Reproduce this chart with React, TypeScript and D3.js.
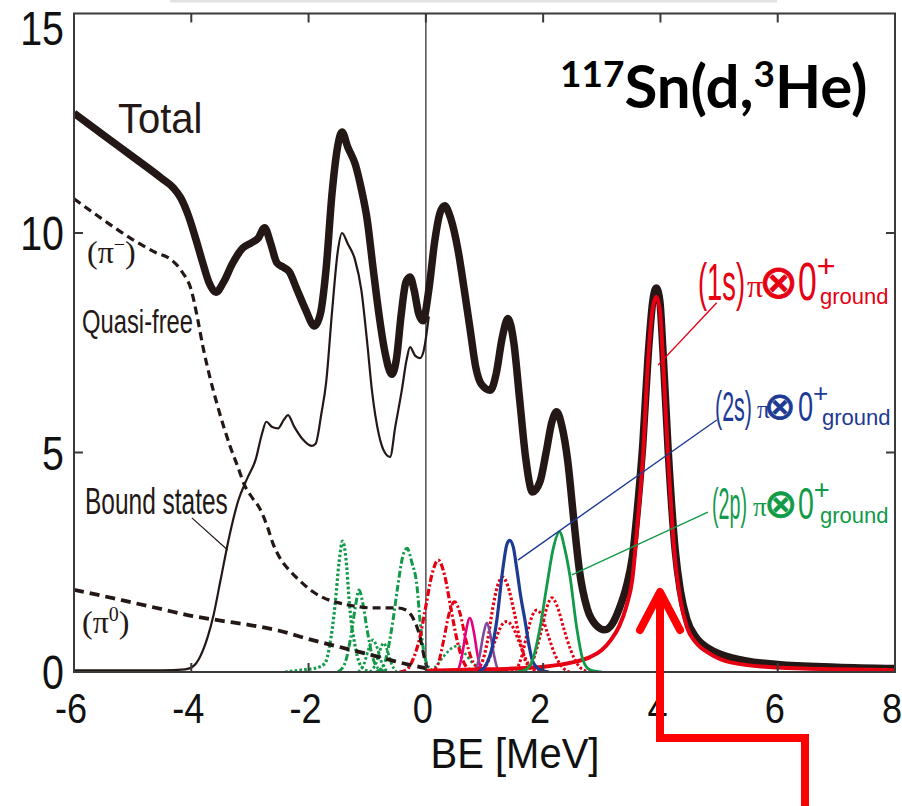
import React from 'react';
import * as d3 from 'd3';

type P = [number, number];

const xTicks = [-6, -4, -2, 0, 2, 4, 6, 8];
const yTicks = [0, 5, 10, 15];

const total: P[] = [
  [-6.0, 12.73], [-5.5, 12.23], [-5.0, 11.74], [-4.5, 11.24], [-4.3, 11.02], [-4.18, 10.8], [-4.05, 10.4],
  [-3.92, 9.85], [-3.8, 9.3], [-3.7, 8.88], [-3.58, 8.65], [-3.45, 8.88], [-3.3, 9.3], [-3.12, 9.66],
  [-2.97, 9.78], [-2.86, 9.88], [-2.75, 10.12], [-2.65, 9.78], [-2.54, 9.32], [-2.43, 9.22], [-2.33, 9.12],
  [-2.2, 8.72], [-2.05, 8.25], [-1.9, 7.88], [-1.8, 8.15], [-1.7, 9.2], [-1.6, 10.9], [-1.5, 12.0],
  [-1.43, 12.3], [-1.33, 11.95], [-1.2, 11.55], [-1.1, 11.0], [-1.0, 10.3], [-0.9, 9.2], [-0.8, 8.15],
  [-0.7, 7.3], [-0.58, 6.78], [-0.5, 7.15], [-0.42, 8.15], [-0.34, 8.88], [-0.27, 9.0], [-0.2, 8.7],
  [-0.12, 8.15], [-0.05, 8.0], [0.05, 8.7], [0.15, 9.8], [0.24, 10.45], [0.32, 10.62], [0.42, 10.35],
  [0.55, 9.6], [0.65, 8.75], [0.75, 7.85], [0.85, 6.95], [0.95, 6.55], [1.1, 6.42], [1.2, 6.8],
  [1.3, 7.6], [1.4, 8.05], [1.5, 7.5], [1.6, 6.2], [1.7, 4.9], [1.82, 4.1], [1.95, 4.35], [2.05, 5.0],
  [2.15, 5.7], [2.23, 5.93], [2.32, 5.6], [2.42, 4.8], [2.52, 3.5], [2.62, 2.3], [2.75, 1.45],
  [2.9, 1.07], [3.05, 0.96], [3.18, 1.1], [3.3, 1.45], [3.42, 1.95], [3.52, 2.6], [3.62, 3.9],
  [3.7, 5.2], [3.79, 7.2], [3.87, 8.45], [3.93, 8.75], [3.99, 8.45], [4.04, 7.4], [4.13, 5.1],
  [4.25, 2.8], [4.34, 1.85], [4.45, 1.2], [4.6, 0.8], [4.84, 0.52], [5.2, 0.33], [6.0, 0.17],
  [7.0, 0.11], [8.0, 0.08],
];

const boundStates: P[] = [
  [-6.0, 0.04], [-4.5, 0.04], [-4.1, 0.06], [-3.95, 0.15], [-3.85, 0.35], [-3.72, 0.8], [-3.62, 1.3],
  [-3.5, 2.1], [-3.35, 3.1], [-3.2, 3.9], [-3.05, 4.4], [-2.9, 4.85], [-2.8, 5.4], [-2.72, 5.7],
  [-2.62, 5.58], [-2.52, 5.55], [-2.42, 5.75], [-2.35, 5.85], [-2.25, 5.6], [-2.1, 5.3], [-1.95, 5.15],
  [-1.88, 5.2], [-1.78, 5.9], [-1.7, 6.6], [-1.6, 8.2], [-1.5, 9.6], [-1.43, 10.0], [-1.33, 9.75],
  [-1.21, 9.4], [-1.1, 8.7], [-1.0, 7.5], [-0.92, 6.42], [-0.8, 5.4], [-0.7, 5.0], [-0.61, 4.9],
  [-0.52, 5.6], [-0.41, 6.42], [-0.33, 7.1], [-0.27, 7.4], [-0.18, 7.2], [-0.1, 7.15], [-0.04, 7.3],
  [0.0, 7.6], [0.05, 8.1],
];

const quasiFreePiMinus: P[] = [
  [-6.0, 10.78], [-5.5, 10.3], [-5.0, 9.85], [-4.6, 9.55], [-4.35, 9.4], [-4.15, 9.1], [-4.0, 8.7],
  [-3.9, 8.1], [-3.8, 7.4], [-3.68, 6.7], [-3.56, 6.1], [-3.45, 5.6], [-3.34, 5.15], [-3.2, 4.65],
  [-3.09, 4.25], [-2.95, 3.95], [-2.83, 3.72], [-2.7, 3.3], [-2.6, 2.9], [-2.49, 2.6], [-2.3, 2.28],
  [-2.15, 2.08], [-1.95, 1.85], [-1.76, 1.7], [-1.5, 1.58], [-1.3, 1.52], [-0.9, 1.46], [-0.5, 1.46],
  [-0.35, 1.42], [-0.27, 1.33], [-0.2, 1.18], [-0.15, 1.02], [-0.1, 0.8], [-0.07, 0.62], [-0.03, 0.35],
  [0.02, 0.1],
];

const quasiFreePiZero: P[] = [
  [-6.0, 1.87], [-5.5, 1.73], [-5.0, 1.58], [-4.5, 1.43], [-4.0, 1.28], [-3.5, 1.17], [-3.0, 1.07],
  [-2.5, 0.94], [-2.0, 0.75], [-1.5, 0.58], [-1.0, 0.41], [-0.6, 0.27], [-0.3, 0.17], [-0.05, 0.1],
  [0.0, 0.08],
];

const state1s: P[] = [
  [0.0, 0.03], [1.0, 0.06], [1.5, 0.08], [2.0, 0.12], [2.5, 0.22], [2.8, 0.34], [3.0, 0.5], [3.15, 0.72],
  [3.3, 1.05], [3.42, 1.5], [3.52, 2.1], [3.62, 3.55], [3.7, 4.85], [3.79, 7.1], [3.87, 8.3],
  [3.93, 8.55], [3.99, 8.25], [4.04, 7.2], [4.13, 4.9], [4.25, 2.55], [4.34, 1.65], [4.45, 1.03],
  [4.6, 0.68], [4.84, 0.42], [5.2, 0.22], [6.0, 0.1], [7.0, 0.06], [8.0, 0.04],
];

const state2s: P[] = [
  [0.9, 0.0], [1.04, 0.2], [1.12, 0.5], [1.21, 1.18], [1.31, 2.32], [1.38, 2.9], [1.43, 3.0],
  [1.49, 2.85], [1.55, 2.35], [1.62, 1.7], [1.69, 1.18], [1.76, 0.6], [1.82, 0.25], [1.95, 0.05], [2.1, 0.0],
];

const state2p: P[] = [
  [1.55, 0.0], [1.7, 0.05], [1.82, 0.27], [1.94, 0.96], [2.06, 1.94], [2.17, 2.8], [2.28, 3.19],
  [2.37, 2.8], [2.46, 2.16], [2.57, 1.03], [2.68, 0.27], [2.8, 0.05], [3.0, 0.0],
];

const magentaPeak: P[] = [
  [0.45, 0.0], [0.55, 0.06], [0.62, 0.4], [0.68, 0.9], [0.75, 1.23], [0.82, 0.9], [0.88, 0.4], [0.95, 0.06], [1.05, 0.0],
];
const purplePeak: P[] = [
  [0.75, 0.0], [0.85, 0.06], [0.92, 0.4], [0.98, 0.85], [1.04, 1.12], [1.1, 0.85], [1.16, 0.4], [1.23, 0.06], [1.33, 0.0],
];

const redDashDotA: P[] = [
  [-0.45, 0.0], [-0.33, 0.05], [-0.2, 0.35], [-0.1, 0.8], [0.0, 1.5], [0.1, 2.2], [0.21, 2.55],
  [0.32, 2.2], [0.42, 1.5], [0.52, 0.8], [0.62, 0.3], [0.75, 0.05], [0.9, 0.0],
];
const redDashDotB: P[] = [
  [0.1, 0.0], [0.2, 0.15], [0.3, 0.7], [0.4, 1.35], [0.49, 1.6], [0.58, 1.35], [0.68, 0.75],
  [0.78, 0.3], [0.9, 0.07], [1.0, 0.0],
];
const redDottedC: P[] = [
  [0.8, 0.0], [0.95, 0.2], [1.05, 0.7], [1.14, 1.45], [1.22, 1.95], [1.31, 2.16], [1.4, 1.95],
  [1.5, 1.4], [1.6, 0.75], [1.7, 0.25], [1.85, 0.03], [1.95, 0.0],
];
const redDottedD: P[] = [
  [0.9, 0.0], [1.05, 0.2], [1.18, 0.7], [1.3, 1.08], [1.38, 1.15], [1.47, 1.05], [1.6, 0.65],
  [1.72, 0.25], [1.85, 0.05], [1.95, 0.0],
];
const redDottedE: P[] = [
  [1.45, 0.0], [1.55, 0.08], [1.64, 0.38], [1.74, 0.95], [1.82, 1.3], [1.89, 1.41], [1.97, 1.3],
  [2.07, 0.9], [2.2, 0.4], [2.35, 0.08], [2.45, 0.0],
];
const redDottedF: P[] = [
  [1.7, 0.05], [1.85, 0.35], [1.97, 0.95], [2.07, 1.5], [2.15, 1.69], [2.24, 1.5], [2.35, 1.0],
  [2.47, 0.5], [2.6, 0.15], [2.75, 0.02], [2.9, 0.0],
];

const greenDottedG1: P[] = [
  [-2.4, 0.0], [-2.1, 0.05], [-1.85, 0.1], [-1.72, 0.2], [-1.64, 0.6], [-1.55, 1.5], [-1.48, 2.5],
  [-1.42, 2.98], [-1.36, 2.55], [-1.3, 1.5], [-1.2, 0.55], [-1.1, 0.12], [-0.95, 0.0],
];
const greenDashDotG2: P[] = [
  [-1.5, 0.0], [-1.38, 0.2], [-1.28, 0.8], [-1.2, 1.5], [-1.14, 1.87], [-1.08, 1.6], [-1.0, 0.95],
  [-0.9, 0.3], [-0.78, 0.05], [-0.65, 0.0],
];
const greenDashDotG3: P[] = [
  [-0.85, 0.0], [-0.72, 0.15], [-0.64, 0.55], [-0.56, 1.18], [-0.48, 1.94], [-0.4, 2.6], [-0.32, 2.82],
  [-0.24, 2.5], [-0.15, 1.94], [-0.1, 1.18], [-0.04, 0.5], [0.05, 0.1], [0.15, 0.0],
];
const greenDottedG4: P[] = [
  [-1.15, 0.0], [-1.05, 0.2], [-0.97, 0.55], [-0.9, 0.73], [-0.83, 0.55], [-0.75, 0.2], [-0.65, 0.0],
];
const greenDottedG5: P[] = [
  [-0.95, 0.0], [-0.85, 0.2], [-0.78, 0.5], [-0.72, 0.66], [-0.66, 0.5], [-0.59, 0.2], [-0.5, 0.0],
];
const greenDottedG6: P[] = [
  [0.0, 0.0], [0.15, 0.1], [0.3, 0.35], [0.45, 0.55], [0.55, 0.6], [0.65, 0.45], [0.8, 0.2], [1.0, 0.05], [1.2, 0.0],
];

// leader lines, in data coordinates [from, to]
const leader1s: P[] = [[4.96, 8.41], [3.96, 6.99]];
const leader2s: P[] = [[4.96, 5.74], [1.57, 2.55]];
const leader2p: P[] = [[4.81, 3.64], [2.49, 2.21]];
const leaderBound: P[] = [[-3.99, 3.51], [-3.38, 2.78]];

const BLACK = '#231815';
const RED = '#e60012';
const BLUE = '#1d3a94';
const GREEN = '#119a48';
const MAGENTA = '#e4007f';
const PURPLE = '#7f4a9e';

const DOT = '2.6,2.2';
const DASHDOT = '7,2.5,2.2,2.5';

const SANS = '"Liberation Sans", Arial, sans-serif';
const SERIF = '"Liberation Serif", "Times New Roman", serif';

function OrbitalLabel(props: {
  x0: number; yb: number; fs: number; color: string; orb: string; orbW: number;
  dPi: number; dOt: number; dZero: number; dGround: number;
}) {
  const { x0, yb, fs, color, orb, orbW, dPi, dOt, dZero, dGround } = props;
  const fsOt = fs * 0.9;
  const otCenter = yb - fs * 0.27;
  const zeroW = fs * 0.36;
  return (
    <text fill={color} fontFamily={SANS}>
      <tspan x={x0} y={yb} fontSize={fs} textLength={orbW} lengthAdjust="spacingAndGlyphs">{orb}</tspan>
      <tspan x={x0 + dPi} y={yb - 3} fontFamily={SERIF} fontSize={fs * 0.62}>π</tspan>
      <tspan x={x0 + dOt - 6} y={otCenter + fsOt * 0.25} fontFamily='"DejaVu Sans", sans-serif'
        fontSize={fsOt} stroke={color} strokeWidth={0.9}>⊗</tspan>
      <tspan x={x0 + dZero} y={yb} fontSize={fs * 1.02} textLength={zeroW} lengthAdjust="spacingAndGlyphs">0</tspan>
      <tspan x={x0 + dZero + zeroW} y={yb - fs * 0.45} fontSize={fs * 0.62}>+</tspan>
      <tspan x={x0 + dGround} y={yb + 4} fontSize={22}>ground</tspan>
    </text>
  );
}

export default function App() {
  const x = d3.scaleLinear().domain([-6, 8]).range([74, 895]);
  const y = d3.scaleLinear().domain([0, 15]).range([672, 13.5]);
  const line = d3.line<P>().x((d) => x(d[0])).y((d) => y(d[1])).curve(d3.curveMonotoneX);
  const straight = d3.line<P>().x((d) => x(d[0])).y((d) => y(d[1]));

  const left = x(-6), right = x(8), top = y(15), bottom = y(0);

  const peaks: { data: P[]; color: string; dash?: string; w: number }[] = [
    { data: greenDottedG6, color: GREEN, dash: DOT, w: 2.6 },
    { data: greenDottedG1, color: GREEN, dash: DOT, w: 3.2 },
    { data: greenDashDotG2, color: GREEN, dash: DASHDOT, w: 3 },
    { data: greenDottedG4, color: GREEN, dash: DOT, w: 2.8 },
    { data: greenDottedG5, color: GREEN, dash: DOT, w: 2.8 },
    { data: greenDashDotG3, color: GREEN, dash: DASHDOT, w: 3 },
    { data: redDashDotA, color: RED, dash: DASHDOT, w: 3.2 },
    { data: redDashDotB, color: RED, dash: DASHDOT, w: 3 },
    { data: redDottedC, color: RED, dash: DOT, w: 3.2 },
    { data: redDottedD, color: RED, dash: DOT, w: 3 },
    { data: redDottedE, color: RED, dash: DOT, w: 3 },
    { data: redDottedF, color: RED, dash: DOT, w: 3 },
    { data: magentaPeak, color: MAGENTA, w: 2.6 },
    { data: purplePeak, color: PURPLE, w: 2.6 },
  ];

  return (
    <svg width={902} height={806} viewBox="0 0 902 806"
      style={{ position: 'absolute', left: 0, top: 0, background: '#fff' }}>
      <defs>
        <clipPath id="plot">
          <rect x={left} y={top} width={right - left} height={bottom - top} />
        </clipPath>
      </defs>
      <rect x={0} y={0} width={902} height={806} fill="#fff" />
      <line x1={170} y1={1} x2={777} y2={1} stroke="#e2e2e2" strokeWidth={3} />

      {/* zero line */}
      <line x1={x(0)} x2={x(0)} y1={top} y2={bottom} stroke="#5a5a5a" strokeWidth={1.6} />

      <g clipPath="url(#plot)" fill="none">
        {peaks.map((p, i) => (
          <path key={i} d={line(p.data) || ''} stroke={p.color} strokeWidth={p.w} strokeDasharray={p.dash} />
        ))}
        <path d={line(quasiFreePiZero) || ''} stroke={BLACK} strokeWidth={3.8} strokeDasharray="10,6" />
        <path d={line(quasiFreePiMinus) || ''} stroke={BLACK} strokeWidth={3.2} strokeDasharray="8,5" />
        <path d={line(boundStates) || ''} stroke={BLACK} strokeWidth={2.2} />
        <path d={line(total) || ''} stroke={BLACK} strokeWidth={7.5} strokeLinejoin="round" />
        <path d={line(state1s) || ''} stroke={RED} strokeWidth={4} />
        <path d={line(state2s) || ''} stroke={BLUE} strokeWidth={3.2} />
        <path d={line(state2p) || ''} stroke={GREEN} strokeWidth={2.8} />
      </g>

      {/* leader lines */}
      <path d={straight(leader1s) || ''} stroke={RED} strokeWidth={1.4} fill="none" />
      <path d={straight(leader2s) || ''} stroke={BLUE} strokeWidth={1.4} fill="none" />
      <path d={straight(leader2p) || ''} stroke={GREEN} strokeWidth={1.4} fill="none" />
      <path d={straight(leaderBound) || ''} stroke={BLACK} strokeWidth={1.2} fill="none" />

      {/* frame */}
      <rect x={left} y={top} width={right - left} height={bottom - top} fill="none" stroke="#3a3a3a" strokeWidth={2} />
      {xTicks.slice(1, -1).map((t) => (
        <g key={'xt' + t}>
          <line x1={x(t)} x2={x(t)} y1={top} y2={top + 9} stroke="#3a3a3a" strokeWidth={2} />
          <line x1={x(t)} x2={x(t)} y1={bottom} y2={bottom - 9} stroke="#3a3a3a" strokeWidth={2} />
        </g>
      ))}
      {yTicks.slice(1, -1).map((t) => (
        <g key={'yt' + t}>
          <line x1={left} x2={left + 9} y1={y(t)} y2={y(t)} stroke="#3a3a3a" strokeWidth={2} />
          <line x1={right} x2={right - 9} y1={y(t)} y2={y(t)} stroke="#3a3a3a" strokeWidth={2} />
        </g>
      ))}

      {/* tick labels */}
      {yTicks.map((t) => (
        <text key={'yl' + t} transform={`translate(64,${Math.max(y(t), 28) + 17}) scale(0.82,1)`}
          textAnchor="end" fontFamily={SANS} fontSize={48} fill="#111">{t}</text>
      ))}
      {xTicks.map((t) => (
        <text key={'xl' + t} transform={`translate(${x(t) - 3},723) scale(0.86,1)`}
          textAnchor="middle" fontFamily={SANS} fontSize={42} fill="#111">{t}</text>
      ))}
      <text transform="translate(515,768) scale(0.93,1)" textAnchor="middle" fontFamily={SANS} fontSize={43} fill="#111">
        BE [MeV]
      </text>

      {/* title */}
      <text x={560} y={108} fontFamily="Lato, 'Open Sans', sans-serif" fontWeight={700} fontSize={60} fill="#000">
        <tspan fontSize={37} dy={-21}>117</tspan>
        <tspan dy={21}>Sn(d,</tspan>
        <tspan fontSize={37} dy={-21}>3</tspan>
        <tspan dy={21}>He)</tspan>
      </text>

      {/* curve labels */}
      <text transform="translate(118,133) scale(0.93,1)" fontFamily={SANS} fontSize={43} fill={BLACK}>Total</text>
      <text x={87} y={263} fontFamily={SERIF} fontSize={32} fill={BLACK}>
        (π<tspan fontSize={20} dy={-12}>−</tspan><tspan dy={12}>)</tspan>
      </text>
      <text transform="translate(82,333) scale(0.7,1)" fontFamily={SANS} fontSize={34} fill={BLACK}>Quasi-free</text>
      <text transform="translate(85,514) scale(0.68,1)" fontFamily={SANS} fontSize={36} fill={BLACK}>Bound states</text>
      <text x={82} y={633} fontFamily={SERIF} fontSize={32} fill={BLACK}>
        (π<tspan fontSize={20} dy={-12}>0</tspan><tspan dy={12}>)</tspan>
      </text>

      <OrbitalLabel x0={698} yb={300} fs={52} color={RED} orb="(1s)" orbW={47}
        dPi={49} dOt={67} dZero={100} dGround={122} />
      <OrbitalLabel x0={715} yb={421} fs={42} color={BLUE} orb="(2s)" orbW={37}
        dPi={42} dOt={55} dZero={83} dGround={107} />
      <OrbitalLabel x0={712} yb={519} fs={44} color={GREEN} orb="(2p)" orbW={35}
        dPi={41} dOt={58} dZero={86} dGround={108} />

      {/* red annotation arrow */}
      <g fill="none" stroke="#ff0000" strokeWidth={8}>
        <polyline points="640,630 660,592 680,630" strokeLinecap="round" strokeLinejoin="round" />
        <polyline points="660,592 660,738 805,738 805,806" strokeLinejoin="miter" />
      </g>
    </svg>
  );
}
